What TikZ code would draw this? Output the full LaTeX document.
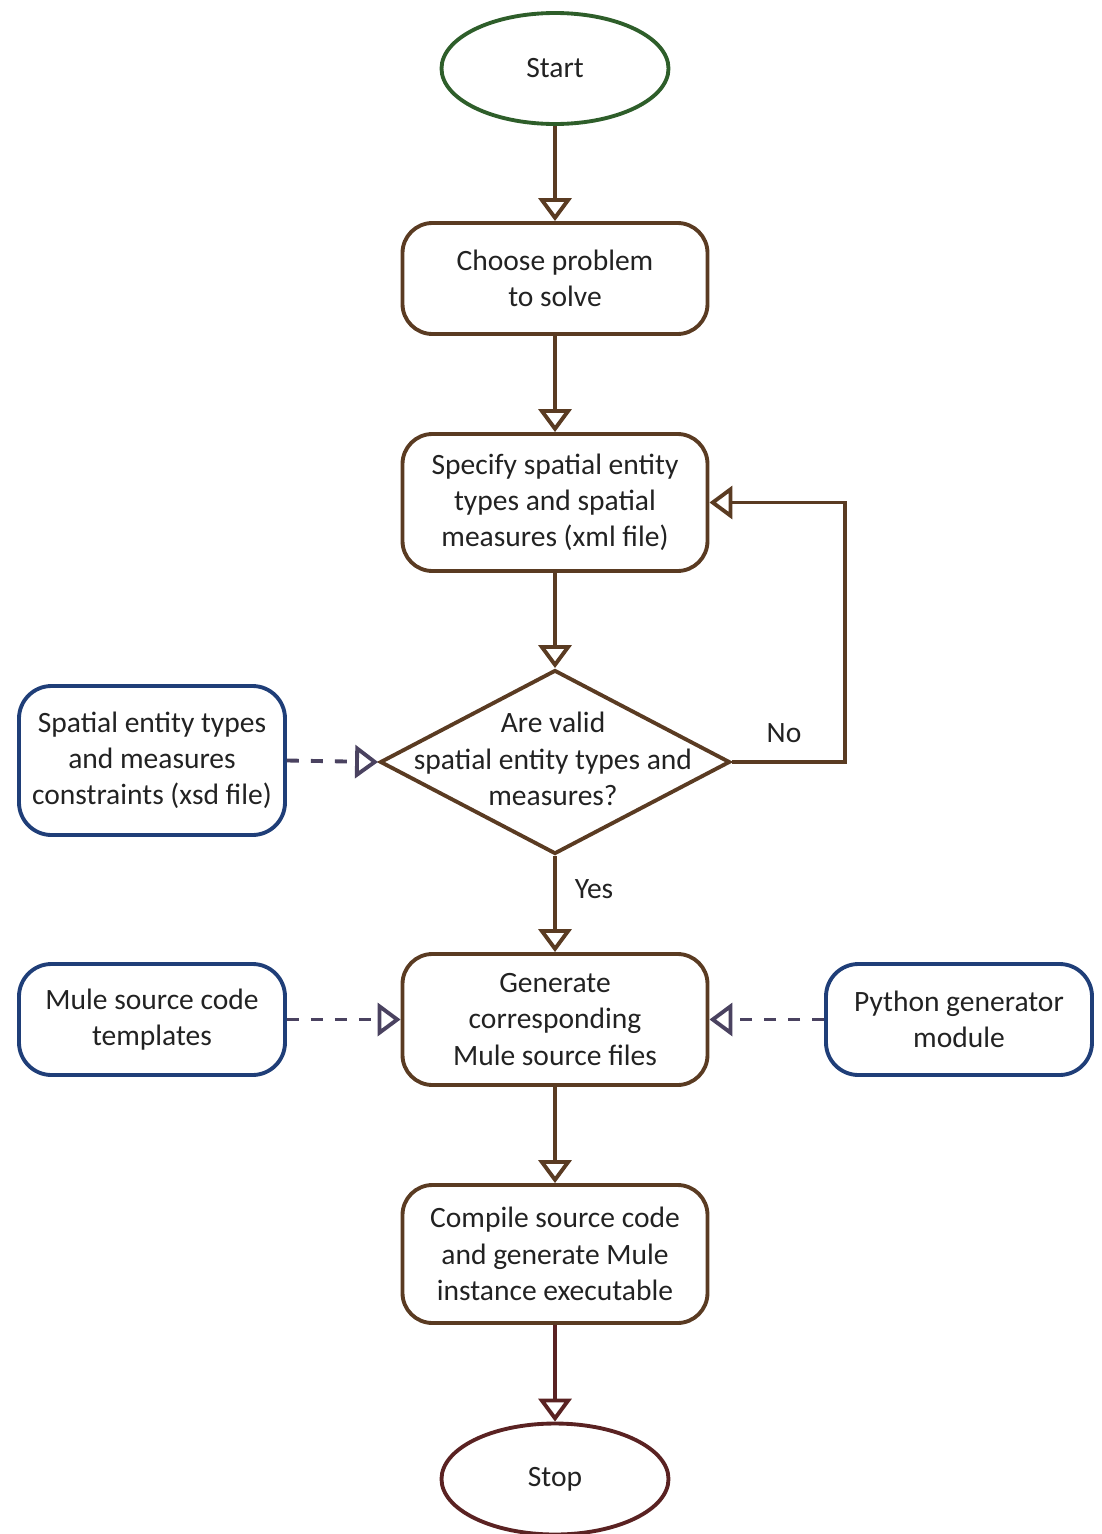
\documentclass[tikz,border=0pt]{standalone}
\usepackage{fontspec}
\setmainfont{Carlito}
\usepackage{tikz}
\usetikzlibrary{arrows.meta,positioning,shapes.geometric,calc}
\definecolor{flbrown}{HTML}{5A3B22}
\definecolor{flgreen}{HTML}{2E5E2A}
\definecolor{flblue}{HTML}{1F3E78}
\definecolor{flmaroon}{HTML}{5A2222}
\definecolor{fldash}{HTML}{4A4260}
\definecolor{fltext}{HTML}{222222}
\begin{document}
\begin{tikzpicture}[font=\fontsize{16.8}{20.6}\selectfont,text=fltext,line width=2.2pt,
    >={Triangle[open,length=0.46cm,width=0.66cm]},
    proc/.style={draw=flbrown,rounded corners=0.6cm,align=center,minimum width=6.1cm},
    src/.style={draw=flblue,rounded corners=0.65cm,align=center,minimum width=5.32cm},
    term/.style={draw,ellipse,minimum width=4.54cm,minimum height=2.22cm},
    flow/.style={draw=flbrown,->},
    feed/.style={draw=fldash,->,dash pattern=on 0.24cm off 0.24cm}]
    \useasboundingbox (0,0) rectangle (22.02,-30.68);
    \node[term,draw=flgreen] (start) at (11.10,-1.37) {Start};
    \node[proc,minimum height=2.22cm] (choose) at (11.10,-5.57) {Choose problem\\to solve};
    \node[proc,minimum height=2.74cm] (spec) at (11.10,-10.05) {Specify spatial entity\\types and spatial\\measures (xml file)};
    \node[draw=flbrown,diamond,minimum width=7.0cm,minimum height=3.68cm,inner sep=0pt] (valid) at (11.10,-15.24) {};
    \node[align=center] (validtxt) at (11.06,-15.18) {Are valid\\spatial entity types and\\measures?};
    \node[proc,minimum height=2.62cm] (gen) at (11.10,-20.39) {Generate\\corresponding\\Mule source files};
    \node[proc,minimum height=2.76cm] (comp) at (11.10,-25.08) {Compile source code\\and generate Mule\\instance executable};
    \node[term,draw=flmaroon] (stop) at (11.10,-29.58) {Stop};
    \node[src,minimum height=2.98cm] (xsd) at (3.04,-15.21) {Spatial entity types\\and measures\\constraints (xsd file)};
    \node[src,minimum height=2.22cm] (tmpl) at (3.04,-20.39) {Mule source code\\templates};
    \node[src,minimum height=2.22cm] (py) at (19.18,-20.39) {Python generator\\module};
    \coordinate (loop) at (16.90,-10.05);
    \draw[flow] (start) -- (choose);
    \draw[flow] (choose) -- (spec);
    \draw[flow] (spec) -- (valid);
    \draw[flow] (valid.east) -| (loop) -- (spec.east);
    \draw[flow] (valid) -- (gen);
    \draw[flow] (gen) -- (comp);
    \draw[flow,draw=flmaroon] (comp) -- (stop);
    \draw[feed] (xsd.east) -- (valid.west);
    \draw[feed] (tmpl) -- (gen);
    \draw[feed] (py) -- (gen);
    \node (no) at (15.68,-14.66) {No};
    \node (yes) at (11.88,-17.78) {Yes};
  \end{tikzpicture}
\end{document}
